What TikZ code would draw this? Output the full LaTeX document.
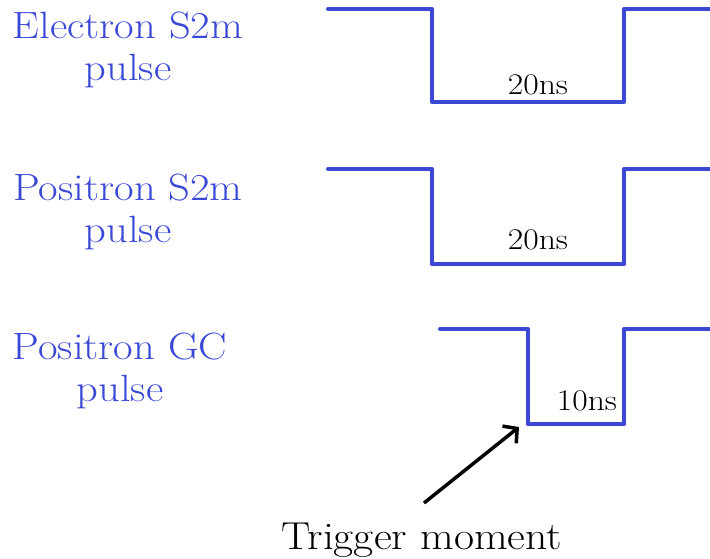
\documentclass[tikz,border=0pt]{standalone}
\usepackage{fontspec}
\setmainfont{Latin Modern Roman}[FakeStretch=1.12]
\usetikzlibrary{arrows.meta}
\definecolor{pulseblue}{RGB}{58,72,214}
\tikzset{
  wave/.style={draw=pulseblue, line width=4pt, line join=round, line cap=round},
  sig/.style={text=pulseblue, font=\fontsize{38}{42}\selectfont, align=center, inner sep=0pt},
  width/.style={font=\fontsize{30}{34}\selectfont, inner sep=0pt},
  pointer/.style={draw=black, line width=3.5pt, -{Straight Barb[length=10pt,width=22pt,line width=3.5pt]}}
}
\begin{document}
\begin{tikzpicture}[x=1pt,y=-1pt]
  \useasboundingbox (0,0) rectangle (710,559);

  % signal names
  \node[sig] (eS2m) at (128,50)  {Electron S2m\\pulse};
  \node[sig] (pS2m) at (128,212) {Positron S2m\\pulse};
  \node[sig] (pGC)  at (120,371) {Positron GC\\pulse};

  % pulse shapes
  \draw[wave] (328,9)   -- (432,9)   -- (432,102) -- (624,102) -- (624,9)   -- (712,9);
  \draw[wave] (328,169) -- (432,169) -- (432,264) -- (624,264) -- (624,169) -- (712,169);
  \draw[wave] (440,329) -- (528,329) -- (528,424) -- (624,424) -- (624,329) -- (712,329);
  \coordinate (edge) at (519,427);

  % pulse widths
  \node[width] (w1) at (538,85)  {20ns};
  \node[width] (w2) at (538,240) {20ns};
  \node[width] (w3) at (587,401) {10ns};

  % trigger annotation
  \node[font=\fontsize{39}{44}\selectfont, inner sep=0pt] (trig) at (422,540) {Trigger moment};
  \draw[pointer] (424,503) -- (edge);
\end{tikzpicture}
\end{document}
